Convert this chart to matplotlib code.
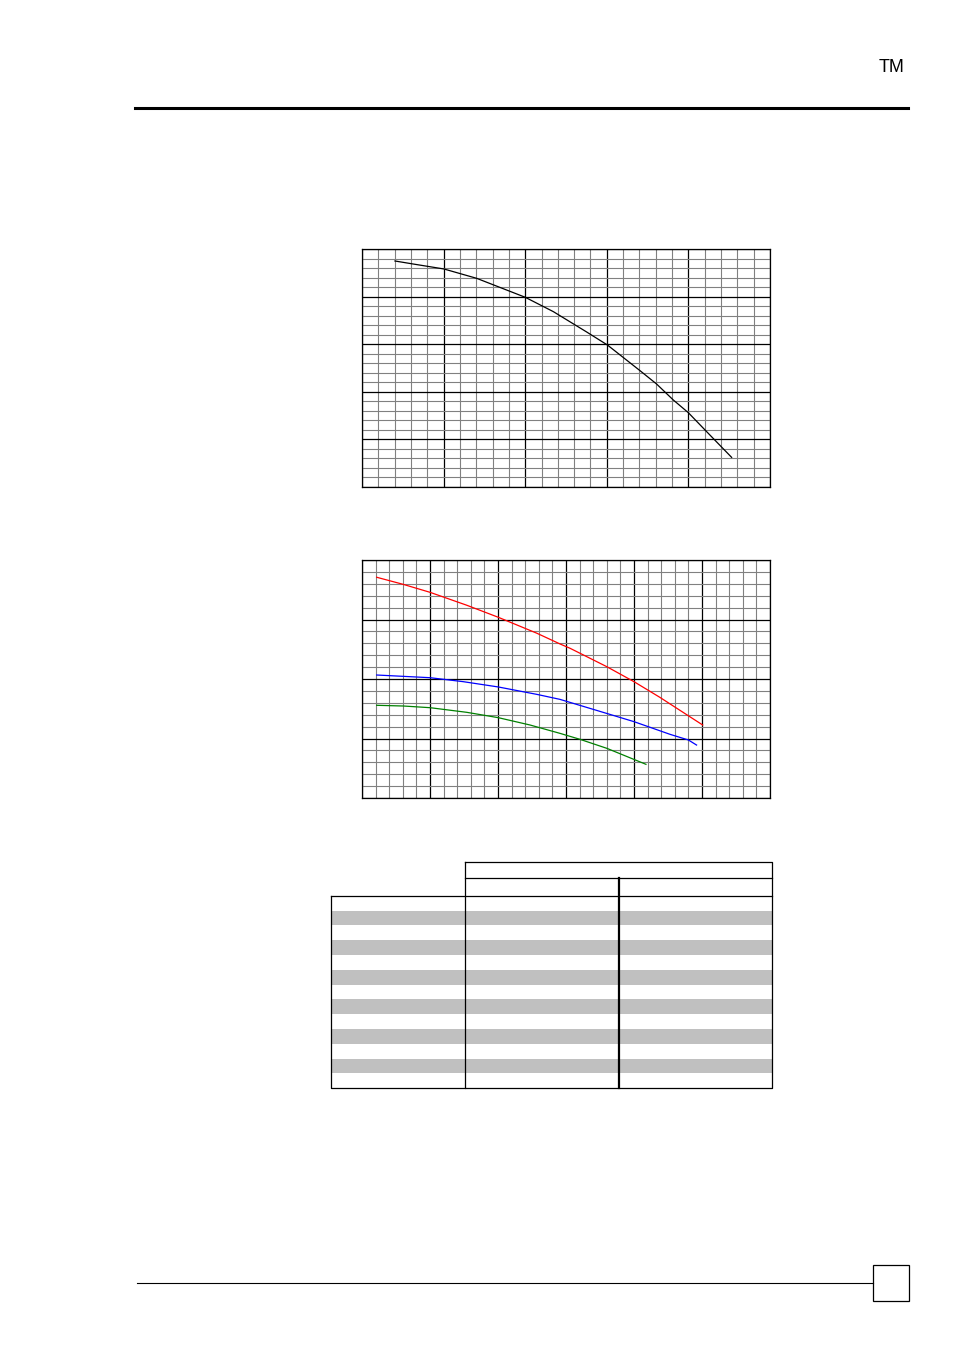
import numpy as np
import matplotlib
matplotlib.use('Agg')
import matplotlib.pyplot as plt
from matplotlib.patches import Rectangle

# upper chart: single black curve (x 0..50, y 0..25)
top_x = [4.04, 6.3, 10.05, 14.05, 20.0, 23.45, 27.5, 30.07, 34.07, 36.1, 38.15, 40.0, 42.24, 45.3]
top_y = [23.74, 23.42, 22.9, 21.92, 19.93, 18.42, 16.3, 14.92, 12.22, 10.82, 9.14, 7.8, 5.81, 3.11]

# lower chart: three curves (x 0..60, y 0..40)
red_x = [2.16, 6.08, 10.0, 15.4, 20.05, 25.7, 29.1, 30.6, 36.0, 40.0, 43.8, 48.2, 50.1]
red_y = [37.1, 35.9, 34.57, 32.4, 30.37, 27.7, 25.9, 25.16, 22.07, 19.55, 16.92, 13.67, 12.27]
blue_x = [2.16, 10.0, 14.9, 20.05, 25.7, 29.1, 34.0, 40.0, 45.3, 48.0, 49.2]
blue_y = [20.67, 20.22, 19.55, 18.66, 17.42, 16.58, 14.9, 12.83, 10.7, 9.75, 8.9]
green_x = [2.16, 6.08, 10.0, 15.4, 20.05, 24.7, 29.1, 32.06, 36.0, 41.76]
green_y = [15.58, 15.46, 15.18, 14.4, 13.5, 12.27, 10.87, 9.86, 8.35, 5.66]

table_rows = 13
table_cols = [331.5, 465.5, 619.0, 772.5]

W, H = 954, 1350
fig = plt.figure(figsize=(W / 100, H / 100), dpi=100)


def px_axes(x0, y0, x1, y1):
    return fig.add_axes([x0 / W, 1 - y1 / H, (x1 - x0) / W, (y1 - y0) / H])


def graph_paper(ax, xmax, ymax, xmaj, ymaj, xmin, ymin):
    ax.set_xlim(0, xmax)
    ax.set_ylim(0, ymax)
    ax.set_xticks(np.arange(0, xmax + 0.01, xmaj))
    ax.set_yticks(np.arange(0, ymax + 0.01, ymaj))
    ax.set_xticks(np.arange(0, xmax + 0.01, xmin), minor=True)
    ax.set_yticks(np.arange(0, ymax + 0.01, ymin), minor=True)
    ax.grid(which='minor', color='#808080', lw=0.8)
    ax.grid(which='major', color='black', lw=0.9)
    ax.tick_params(which='both', length=0, labelbottom=False, labelleft=False)
    for s in ax.spines.values():
        s.set_linewidth(0.9)
    ax.set_axisbelow(True)


ax1 = px_axes(362, 249, 770, 487)
graph_paper(ax1, 50, 25, 10, 5, 2, 1)
ax1.plot(top_x, top_y, color='black', lw=0.9)

ax2 = px_axes(362, 560, 770, 798)
graph_paper(ax2, 60, 40, 10, 10, 2, 2)
ax2.plot(red_x, red_y, color='#ff0000', lw=0.9)
ax2.plot(blue_x, blue_y, color='#0000ff', lw=0.9)
ax2.plot(green_x, green_y, color='#008000', lw=0.9)

# page decorations and the empty table, in pixel coordinates
pg = fig.add_axes([0, 0, 1, 1])
pg.set_xlim(0, W)
pg.set_ylim(H, 0)
pg.axis('off')

pg.plot([135, 908], [108, 108], color='black', lw=2.2)
pg.text(892, 68, 'TM', fontsize=13, ha='center', va='center', family='Liberation Sans')
pg.plot([137, 873], [1283, 1283], color='black', lw=0.8)
pg.add_patch(Rectangle((873, 1265), 36, 36, fill=False, ec='black', lw=0.9))

body_top, body_bot = 895.7, 1088.3
rh = (body_bot - body_top) / table_rows
for i in range(table_rows):
    if i % 2 == 1:
        pg.add_patch(Rectangle((table_cols[0], body_top + i * rh), table_cols[-1] - table_cols[0], rh,
                               fc='#c0c0c0', ec='none'))
lw = 0.9
pg.plot([table_cols[1], table_cols[3], table_cols[3], table_cols[1], table_cols[1]],
        [861.7, 861.7, body_bot, body_bot, 861.7], color='black', lw=lw)
pg.plot([table_cols[1], table_cols[3]], [878.3, 878.3], color='black', lw=lw)
pg.plot([table_cols[0], table_cols[3]], [body_top, body_top], color='black', lw=lw)
pg.plot([table_cols[0], table_cols[0], table_cols[1]], [body_top, body_bot, body_bot], color='black', lw=lw)
pg.plot([table_cols[2], table_cols[2]], [878.3, body_bot], color='black', lw=1.6)

fig.savefig('out.png', dpi=100)
